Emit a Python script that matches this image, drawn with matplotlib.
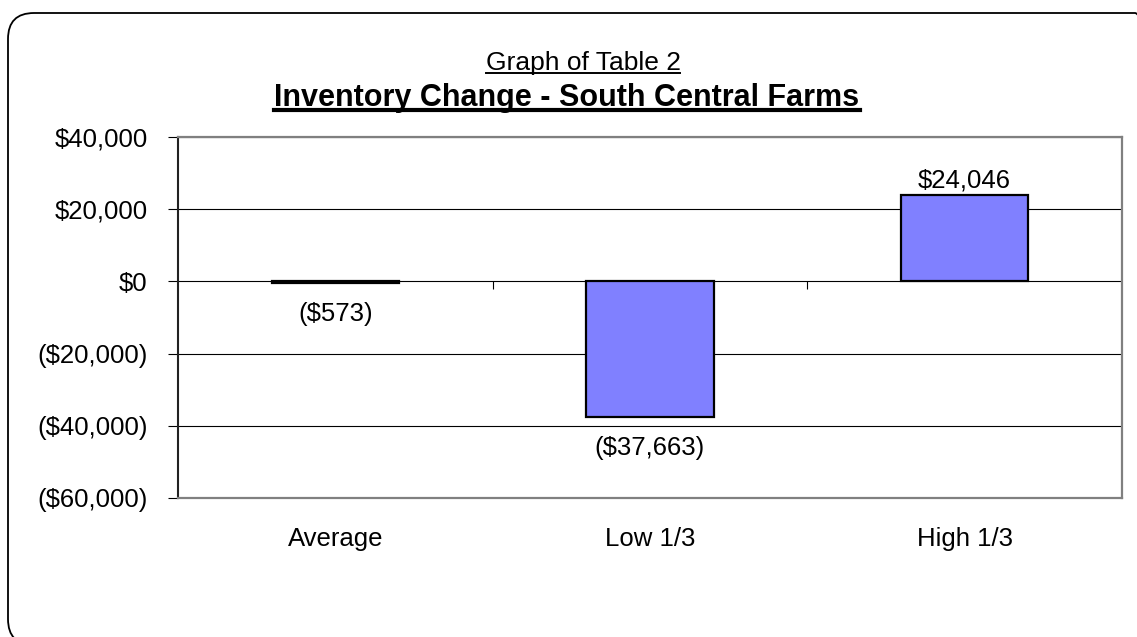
"""
Graph of Table 2: inventory change by farm group, South Central Farms.
Produces: out.png
"""

import matplotlib
matplotlib.use("Agg")
import matplotlib.pyplot as plt
from matplotlib.patches import FancyBboxPatch
from matplotlib.lines import Line2D
from matplotlib.ticker import FuncFormatter, MultipleLocator

plt.rcParams["font.family"] = ["Liberation Sans", "DejaVu Sans"]

# ── Data ──────────────────────────────────────────────────────────────────────

categories = ["Average", "Low 1/3", "High 1/3"]
inventory_change = [-573, -37663, 24046]
y_ticks = [-60000, -40000, -20000, 0, 20000, 40000]

BAR_COLOR = "#8080FF"
GRAY = "#808080"
W, H = 1137, 637


def money(v, _pos=None):
    if v < 0:
        return f"(${-v:,.0f})"
    return f"${v:,.0f}"


fig = plt.figure(figsize=(W / 100, H / 100), dpi=100)
fig.patch.set_facecolor("white")

# ── Rounded outer frame (pixel units, origin bottom-left) ─────────────────────
bg = fig.add_axes([0, 0, 1, 1])
bg.set_xlim(0, W)
bg.set_ylim(0, H)
bg.axis("off")
bg.add_patch(FancyBboxPatch((8, H - 645), 1161 - 8, 645 - 13,
                            boxstyle="round,pad=0,rounding_size=26",
                            fc="none", ec="black", lw=1.3, clip_on=False))

# ── Main chart ────────────────────────────────────────────────────────────────
ax = fig.add_axes([178 / W, (H - 498) / H, 944 / W, 361 / H])
x = range(len(categories))
bars = ax.bar(x, inventory_change, width=0.404, color=BAR_COLOR,
              edgecolor="black", linewidth=1.6, zorder=3)

ax.set_xlim(-0.5, len(categories) - 0.5)
ax.set_ylim(min(y_ticks), max(y_ticks))
ax.yaxis.set_major_locator(MultipleLocator(20000))
ax.yaxis.set_major_formatter(FuncFormatter(money))
ax.set_xticks(list(x))
ax.set_xticklabels(categories)

ax.grid(axis="y", color="black", lw=0.8, zorder=1)
ax.set_axisbelow(True)
for side in ("top", "right", "bottom"):
    ax.spines[side].set_color(GRAY)
    ax.spines[side].set_linewidth(1.6)
ax.spines["left"].set_color("#222222")
ax.spines["left"].set_linewidth(1.5)

ax.tick_params(axis="y", direction="out", length=7, width=0.8, pad=15,
               labelsize=18.5, colors="black")
ax.tick_params(axis="x", length=0, pad=21, labelsize=18.5)

# category separator ticks hanging off the zero line
bounds = [i + 0.5 for i in x]
ax.vlines(bounds, 0, -2000, color="black", lw=0.8, zorder=2)

# data labels (outside end)
for rect, v in zip(bars, inventory_change):
    cx = rect.get_x() + rect.get_width() / 2
    dy = 10 if v >= 0 else -22
    ax.annotate(money(v), (cx, v), xytext=(0, dy), textcoords="offset points",
                ha="center", va="center", fontsize=18.5, zorder=4)

# ── Titles with underline ─────────────────────────────────────────────────────
t1 = fig.text(583 / W, (H - 70) / H, "Graph of Table 2", ha="center",
              va="baseline", fontsize=19)
t2 = fig.text(567 / W, (H - 106) / H, "Inventory Change - South Central Farms",
              ha="center", va="baseline", fontsize=22, fontweight="bold")

fig.canvas.draw()
renderer = fig.canvas.get_renderer()
for t, gap, lw in ((t1, 3, 1.4), (t2, 4, 3.0)):
    bb = t.get_window_extent(renderer)
    yb = (t.get_position()[1] * H - gap) / H
    fig.add_artist(Line2D([bb.x0 / W, bb.x1 / W], [yb, yb], color="black",
                          lw=lw, transform=fig.transFigure))

fig.savefig("out.png", dpi=100, facecolor=fig.get_facecolor())
plt.close(fig)
